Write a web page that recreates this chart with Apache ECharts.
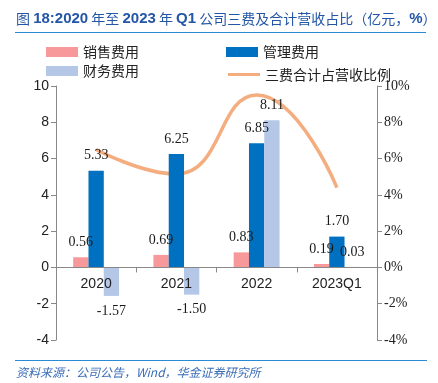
<!DOCTYPE html>
<html><head><meta charset="utf-8">
<script src="https://cdn.jsdelivr.net/npm/echarts@6/dist/echarts.min.js"></script>
<style>html,body{margin:0;padding:0;background:#fff;}#c{width:438px;height:383px;}</style>
</head><body><div id="c"></div>
<script>
const categories = ['2020', '2021', '2022', '2023Q1'];
const salesExp = [0.56, 0.69, 0.83, 0.19];
const mgmtExp = [5.33, 6.25, 6.85, 1.70];
const finExp = [-1.57, -1.50, 8.11, 0.03];
const ratioPct = [6.5, 5.15, 9.5, 4.4];
const leftTicks = {min: -4, max: 10, interval: 2};
const rightTicks = {min: -4, max: 10, interval: 2};

const serif = '"Liberation Serif","Times New Roman",serif';
const sans = '"Liberation Sans",Arial,sans-serif';
const cjk = '"Noto Sans CJK SC","Liberation Sans",sans-serif';
const titleColor = '#2356a6';

function barData(arr) {
  return arr.map(v => v < 0 ? {value: v, label: {position: 'bottom'}} : {value: v});
}
const labelCfg = {show: true, position: 'top', distance: 8, fontFamily: serif, fontSize: 14, color: '#1a1a1a',
  formatter: p => p.value.toFixed(2)};
const legendText = {fontFamily: cjk, fontSize: 14, color: '#222'};

const chart = echarts.init(document.getElementById('c'), null, {renderer: 'canvas'});
const option = {
  animation: false,
  backgroundColor: '#fff',
  title: {
    text: '{c|图 }{a|18:2020}{c| 年至 }{a|2023}{c| 年 }{a|Q1}{c| 公司三费及合计营收占比（亿元，}{a|%}{c|）}',
    left: 16, top: 11, padding: 0,
    textStyle: {
      rich: {
        a: {fontFamily: sans, fontWeight: 'bold', fontSize: 15, color: titleColor},
        c: {fontFamily: cjk, fontWeight: 'normal', fontSize: 14, color: titleColor}
      }
    }
  },
  graphic: [
    {type: 'line', shape: {x1: 15, y1: 32.5, x2: 426, y2: 32.5}, style: {stroke: '#2a8ad4', lineWidth: 1}},
    {type: 'line', shape: {x1: 15, y1: 360.5, x2: 427, y2: 360.5}, style: {stroke: '#2a8ad4', lineWidth: 1}},
    {type: 'text', left: 16, top: 366, style: {text: '资料来源：公司公告，Wind，华金证券研究所', font: 'italic 12px "Noto Sans CJK SC", sans-serif', fill: '#3a6cb8'}}
  ],
  legend: [
    {data: ['销售费用', '管理费用'], left: 46, top: 45, padding: 0, itemWidth: 32, itemHeight: 10, itemGap: 87,
      icon: 'rect', textStyle: legendText},
    {data: ['财务费用'], left: 46, top: 64, padding: 0, itemWidth: 32, itemHeight: 10,
      icon: 'rect', textStyle: legendText},
    {data: ['三费合计占营收比例'], left: 228, top: 67.5, padding: 0, itemWidth: 32, itemHeight: 3,
      icon: 'rect', textStyle: legendText}
  ],
  grid: {left: 56, right: 61, top: 86, bottom: 43, containLabel: false},
  xAxis: {
    type: 'category', data: categories, position: 'bottom', offset: 0, z: 10,
    axisLine: {onZero: false, lineStyle: {color: '#888', width: 1}},
    axisTick: {show: true, length: 5, lineStyle: {color: '#888'}},
    axisLabel: {fontFamily: sans, fontSize: 14, color: '#222', margin: 10},
    splitLine: {show: false}
  },
  yAxis: [
    {type: 'value', min: leftTicks.min, max: leftTicks.max, interval: leftTicks.interval,
      axisLine: {show: true, lineStyle: {color: '#888'}},
      axisTick: {show: true, length: 5, lineStyle: {color: '#888'}},
      axisLabel: {fontFamily: sans, fontSize: 14, color: '#222', margin: 7},
      splitLine: {show: false}},
    {type: 'value', min: rightTicks.min, max: rightTicks.max, interval: rightTicks.interval,
      axisLine: {show: true, lineStyle: {color: '#888'}},
      axisTick: {show: true, length: 5, lineStyle: {color: '#888'}},
      axisLabel: {fontFamily: serif, fontSize: 14, color: '#222', margin: 7, formatter: '{value}%'},
      splitLine: {show: false}}
  ],
  series: [
    {name: '销售费用', type: 'bar', data: barData(salesExp), itemStyle: {color: '#f7989a'},
      barWidth: 15.3, barGap: '0%', label: labelCfg},
    {name: '管理费用', type: 'bar', data: barData(mgmtExp), itemStyle: {color: '#0070c0'},
      barWidth: 15.3, barGap: '0%', label: labelCfg},
    {name: '财务费用', type: 'bar', data: barData(finExp), itemStyle: {color: '#b4c7e7'},
      barWidth: 15.3, barGap: '0%', label: labelCfg},
    {name: '三费合计占营收比例', type: 'line', yAxisIndex: 1, data: ratioPct, smooth: 0.5,
      symbol: 'none', lineStyle: {color: '#f4ad7f', width: 3.5}, itemStyle: {color: '#f4ad7f'}, z: 1}
  ]
};
chart.setOption(option);
// place category axis on the zero line of the left value axis
const zeroY = chart.convertToPixel({yAxisIndex: 0}, 0);
const gridBottomY = chart.getHeight() - 43;
chart.setOption({xAxis: {offset: -(gridBottomY - zeroY)}});
</script></body></html>
